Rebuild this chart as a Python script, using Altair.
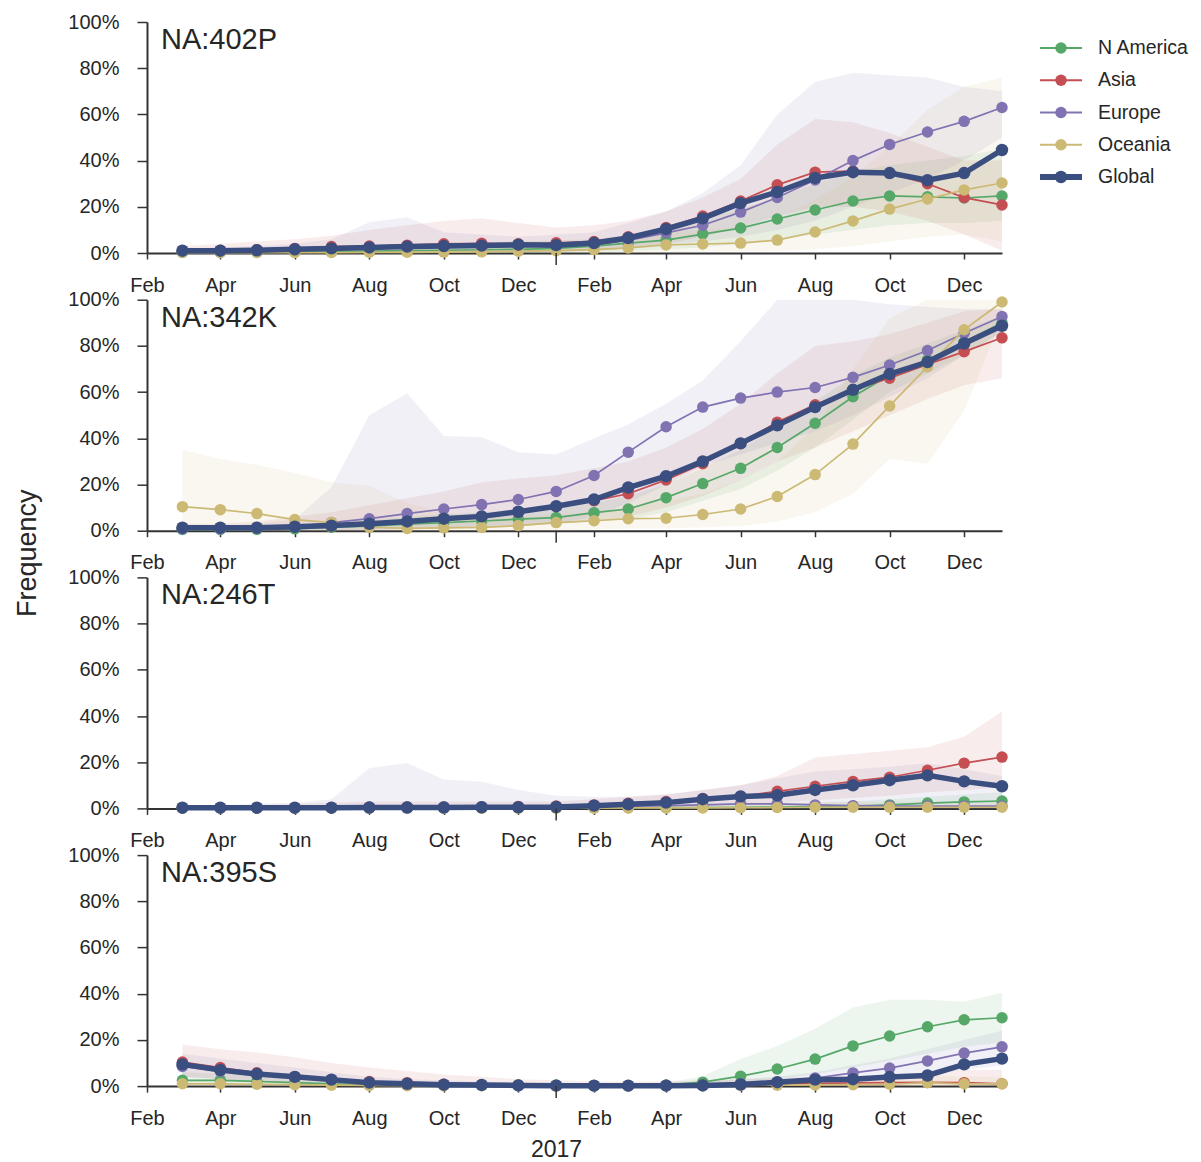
import altair as alt
import pandas as pd

MONTHS = ["2016-03-01", "2016-04-01", "2016-05-01", "2016-06-01", "2016-07-01", "2016-08-01",
          "2016-09-01", "2016-10-01", "2016-11-01", "2016-12-01", "2017-01-01", "2017-02-01",
          "2017-03-01", "2017-04-01", "2017-05-01", "2017-06-01", "2017-07-01", "2017-08-01",
          "2017-09-01", "2017-10-01", "2017-11-01", "2017-12-01", "2018-01-01"]
REGIONS = ["N America", "Asia", "Europe", "Oceania", "Global"]
COLORS = ["#55A868", "#C44E52", "#8172B2", "#CCB974", "#3A4E80"]
PANELS = ["NA:402P", "NA:342K", "NA:246T", "NA:395S"]

# ---------------- NA:402P (percent) ----------------
P402_GLO = [1.0, 1.0, 1.2, 1.6, 2.0, 2.4, 2.8, 3.0, 3.2, 3.6, 3.4, 4.3, 6.5, 10.4, 15.0, 21.6, 26.4, 32.5, 35.0, 34.6, 31.5, 34.6, 44.6]
P402_ASI = [1.0, 1.2, 1.4, 2.0, 2.8, 3.0, 3.4, 4.0, 4.2, 4.0, 4.4, 5.0, 7.0, 11.0, 16.0, 22.5, 29.5, 35.0, 35.5, 34.5, 30.0, 24.0, 20.8]
P402_ASI_LO = [0, 0, 0, 0, 0.2, 0.3, 0.4, 0.5, 0.6, 0.6, 0.7, 1.0, 2.0, 4.0, 7.0, 11.0, 16.0, 20.0, 20.0, 18.0, 14.0, 8.0, 1.0]
P402_ASI_HI = [3, 4, 5, 6, 7.5, 10, 12, 13.8, 15, 13, 11, 12, 14, 18, 24, 32, 47, 58, 56.6, 52, 46, 40, 40]
P402_EUR = [0.8, 0.8, 1.0, 1.2, 1.5, 2.0, 2.2, 2.4, 2.6, 3.0, 3.0, 3.5, 5.5, 8.7, 12.0, 17.7, 24.0, 31.6, 40.0, 47.0, 52.4, 57.0, 63.0]
P402_EUR_LO = [0, 0, 0, 0, 0, 0, 0, 0, 0.2, 0.3, 0.4, 1.0, 2.0, 4.0, 5.0, 7.0, 10.0, 14.0, 20.0, 26.0, 32.0, 40.0, 50.0]
P402_EUR_HI = [2, 2.5, 3, 4, 6, 13.3, 15.5, 9, 8, 7, 8, 9, 13, 18, 26, 38, 60, 74, 78, 77, 76, 72, 70]
P402_NAM = [0.3, 0.3, 0.4, 0.5, 0.6, 0.8, 1.0, 1.2, 1.4, 1.6, 2.0, 3.0, 4.3, 5.6, 8.2, 10.8, 14.7, 18.6, 22.5, 24.7, 24.3, 23.8, 24.7]
P402_NAM_LO = [0, 0, 0, 0, 0, 0, 0, 0, 0, 0, 0, 0.3, 0.8, 1.5, 2.5, 4, 6, 8, 10, 12, 13, 13, 14]
P402_NAM_HI = [1, 1, 1.5, 2, 2.5, 3, 3.5, 4, 4.5, 5, 5.5, 6, 8, 11, 15, 19, 24, 30, 35, 38, 40, 42, 45]
P402_OCE = [0.2, 0.2, 0.2, 0.2, 0.2, 0.3, 0.3, 0.4, 0.5, 0.8, 1.0, 1.5, 2.2, 3.5, 3.9, 4.3, 5.6, 9.1, 13.9, 19.0, 23.4, 27.3, 30.3]
P402_OCE_LO = [0, 0, 0, 0, 0, 0, 0, 0, 0, 0, 0, 0, 0, 0.3, 0.5, 0.6, 0.8, 1.5, 3, 5, 7, 8, 5]
P402_OCE_HI = [1, 1, 1, 1, 1.2, 1.5, 1.8, 2, 2.5, 3, 3.5, 4.5, 6, 9, 10, 11, 15, 23, 33, 46, 62, 72, 76]

# ---------------- NA:342K ----------------
P342_GLO = [1.3, 1.3, 1.3, 1.7, 2.2, 3.0, 4.0, 5.2, 6.2, 8.2, 10.6, 13.5, 18.7, 23.6, 30.0, 37.8, 45.6, 53.5, 61.0, 67.8, 73.0, 81.0, 88.7]
P342_ASI = [1.2, 1.2, 1.2, 1.6, 2.0, 2.8, 3.8, 5.0, 6.0, 8.0, 10.5, 13.0, 16.0, 22.0, 29.0, 37.8, 47.0, 54.5, 61.0, 66.0, 72.0, 77.5, 83.5]
P342_ASI_LO = [0, 0, 0, 0, 0, 0.3, 0.6, 1, 1.5, 2, 3, 4, 6, 10, 15, 22, 30, 36, 43, 50, 57, 63, 66]
P342_ASI_HI = [3, 3, 4, 6, 8, 11, 14, 17, 21, 22.6, 24, 27, 30, 36, 44, 55, 68, 80, 82, 85, 90, 95, 96]
P342_EUR = [0.8, 0.8, 1.2, 1.8, 3.5, 5.2, 7.4, 9.4, 11.3, 13.5, 17.0, 23.9, 34.0, 45.0, 53.5, 57.4, 60.0, 62.0, 66.4, 71.7, 78.0, 85.5, 92.7]
P342_EUR_LO = [0, 0, 0, 0, 0, 0, 0.5, 1, 1.5, 2, 3, 6, 12, 20, 28, 33, 38, 43, 50, 58, 66, 76, 86]
P342_EUR_HI = [1.5, 2, 3, 5, 18.8, 50, 59.5, 41, 40.5, 34, 33, 40, 46, 55, 65, 82, 100, 100, 100, 98, 97, 96, 96]
P342_NAM = [0.5, 0.5, 0.6, 0.8, 1.5, 2.0, 2.8, 3.5, 4.2, 5.0, 5.7, 7.8, 9.4, 14.3, 20.4, 27.0, 36.0, 46.5, 58.0, 67.4, 74.0, 81.7, 90.0]
P342_NAM_LO = [0, 0, 0, 0, 0, 0.5, 1, 1.5, 2, 2.5, 3, 4, 5, 8, 13, 18, 26, 36, 48, 60, 68, 76, 86]
P342_NAM_HI = [1.5, 1.5, 2, 2.5, 3.5, 4.5, 6, 7, 8, 9, 10, 12, 15, 20, 27, 35, 45, 56, 67, 75, 81, 87, 93]
P342_OCE = [10.4, 9.1, 7.4, 4.8, 3.5, 1.5, 1.0, 1.2, 1.4, 2.2, 3.5, 4.3, 5.2, 5.4, 7.0, 9.4, 14.8, 24.3, 37.5, 54.0, 71.0, 87.0, 99.0]
P342_OCE_LO = [0, 0, 0, 0, 0, 0, 0, 0, 0, 0, 0, 0.5, 1, 1, 1.5, 2, 4, 8, 16, 31, 29, 52, 92]
P342_OCE_HI = [35, 31, 28.5, 25, 21, 19.5, 12, 8, 6, 6, 7, 8, 10, 13, 16, 22, 30, 45, 70, 92, 100, 100, 100]

# ---------------- NA:246T ----------------
P246_GLO = [0.3, 0.3, 0.3, 0.3, 0.3, 0.4, 0.4, 0.4, 0.5, 0.5, 0.6, 1.2, 1.8, 2.5, 4.0, 5.2, 5.7, 8.0, 10.0, 12.2, 14.3, 11.7, 9.6]
P246_ASI = [0.3, 0.3, 0.3, 0.3, 0.4, 0.5, 0.6, 0.6, 0.7, 0.8, 1.0, 1.5, 2.2, 3.0, 4.3, 5.2, 7.4, 9.6, 11.7, 13.5, 16.5, 19.6, 22.2]
P246_ASI_LO = [0, 0, 0, 0, 0, 0, 0, 0, 0, 0, 0, 0.2, 0.4, 0.8, 1.2, 1.6, 2.5, 3.5, 4.5, 5.5, 7, 8, 9]
P246_ASI_HI = [1, 1.5, 1.5, 2, 2.5, 3, 3, 3, 3, 3, 3, 4, 5, 6, 8, 10, 14, 22, 23.5, 25, 26.5, 31, 42]
P246_EUR = [0.2, 0.2, 0.2, 0.2, 0.3, 0.5, 0.6, 0.5, 0.5, 0.5, 0.6, 0.8, 1.0, 1.2, 1.5, 2.0, 2.0, 1.5, 1.2, 1.0, 1.0, 1.0, 1.0]
P246_EUR_LO = [0, 0, 0, 0, 0, 0, 0, 0, 0, 0, 0, 0, 0, 0, 0, 0, 0, 0, 0, 0, 0, 0, 0]
P246_EUR_HI = [1, 1.5, 2, 2.5, 4, 17.4, 19.6, 12.5, 11.5, 8, 5.5, 5, 5, 6, 8, 10, 13, 16, 17, 18, 19.5, 17, 14]
P246_NAM = [0.2, 0.2, 0.2, 0.2, 0.2, 0.2, 0.2, 0.2, 0.2, 0.2, 0.3, 0.3, 0.3, 0.3, 0.4, 0.5, 0.6, 0.8, 1.0, 1.5, 2.3, 2.8, 3.2]
P246_NAM_LO = [0, 0, 0, 0, 0, 0, 0, 0, 0, 0, 0, 0, 0, 0, 0, 0, 0, 0, 0, 0, 0, 0, 0]
P246_NAM_HI = [0.8, 0.8, 0.8, 0.8, 0.8, 0.8, 0.8, 0.8, 0.8, 0.8, 1, 1, 1, 1, 1.2, 1.5, 2, 2.5, 3, 4, 5, 6, 7]
P246_OCE = [0.1, 0.1, 0.1, 0.1, 0.1, 0.1, 0.1, 0.1, 0.1, 0.1, 0.1, 0.1, 0.2, 0.2, 0.2, 0.3, 0.4, 0.5, 0.5, 0.5, 0.5, 0.5, 0.5]
P246_OCE_LO = [0, 0, 0, 0, 0, 0, 0, 0, 0, 0, 0, 0, 0, 0, 0, 0, 0, 0, 0, 0, 0, 0, 0]
P246_OCE_HI = [0.5, 0.5, 0.5, 0.5, 0.5, 0.5, 0.5, 0.5, 0.5, 0.5, 0.5, 0.6, 0.8, 1, 1.5, 2, 2.5, 3, 3, 3, 3, 3, 3]

# ---------------- NA:395S ----------------
P395_GLO = [9.4, 7.0, 5.2, 4.0, 2.8, 1.5, 1.0, 0.6, 0.5, 0.3, 0.2, 0.2, 0.2, 0.2, 0.3, 0.7, 1.7, 2.8, 3.0, 3.9, 4.6, 9.4, 11.9]
P395_ASI = [10.4, 8.0, 5.8, 4.0, 2.8, 2.0, 1.5, 0.8, 0.6, 0.4, 0.3, 0.2, 0.2, 0.3, 0.5, 0.8, 1.0, 1.2, 1.4, 1.5, 1.6, 1.5, 1.0]
P395_ASI_LO = [4, 3, 2, 1, 0.5, 0.2, 0, 0, 0, 0, 0, 0, 0, 0, 0, 0, 0, 0, 0, 0, 0, 0, 0]
P395_ASI_HI = [18, 16, 14.5, 12.5, 10, 8, 6.5, 5, 4, 3, 2.5, 2, 2, 2, 2.5, 3, 3.5, 4, 4.5, 5, 6, 7, 7]
P395_EUR = [8.5, 6.5, 5.0, 3.8, 2.6, 1.4, 0.9, 0.5, 0.4, 0.3, 0.2, 0.2, 0.2, 0.3, 0.5, 1.0, 1.7, 3.5, 5.7, 7.8, 10.9, 14.3, 17.0]
P395_EUR_LO = [4, 3, 2, 1, 0.5, 0, 0, 0, 0, 0, 0, 0, 0, 0, 0, 0.3, 0.8, 1.5, 2.5, 3.5, 5, 7, 9]
P395_EUR_HI = [14, 12, 10, 8, 6, 4, 3, 2.5, 2, 1.5, 1.2, 1, 1, 1.2, 2, 3, 4, 6, 9, 12, 16, 20, 24]
P395_NAM = [2.5, 2.5, 2.0, 1.5, 1.0, 0.5, 0.4, 0.3, 0.3, 0.5, 0.5, 0.3, 0.3, 0.5, 1.7, 4.3, 7.4, 11.7, 17.4, 21.7, 25.7, 28.7, 29.6]
P395_NAM_LO = [0.5, 0.5, 0.4, 0.3, 0.2, 0, 0, 0, 0, 0, 0, 0, 0, 0, 0.3, 1, 3, 5, 8, 11, 14, 17, 19]
P395_NAM_HI = [6, 5.5, 5, 4, 3, 2, 1.5, 1.2, 1.2, 1.5, 1.5, 1.2, 1.2, 1.5, 4.3, 11.7, 17.4, 24.8, 34, 37.4, 37.4, 36.5, 40.4]
P395_OCE = [1.0, 1.0, 0.8, 0.6, 0.4, 0.3, 0.2, 0.2, 0.2, 0.2, 0.2, 0.2, 0.2, 0.2, 0.2, 0.3, 0.4, 0.5, 0.6, 0.8, 1.5, 1.0, 1.0]
P395_OCE_LO = [0, 0, 0, 0, 0, 0, 0, 0, 0, 0, 0, 0, 0, 0, 0, 0, 0, 0, 0, 0, 0, 0, 0]
P395_OCE_HI = [3, 3, 2.5, 2, 1.5, 1, 1, 1, 1, 1, 1, 1, 1, 1, 1, 1.5, 2, 2.5, 3, 3.5, 4.5, 4, 4]

SERIES = {
    "NA:402P": {"N America": (P402_NAM, P402_NAM_LO, P402_NAM_HI), "Asia": (P402_ASI, P402_ASI_LO, P402_ASI_HI),
                "Europe": (P402_EUR, P402_EUR_LO, P402_EUR_HI), "Oceania": (P402_OCE, P402_OCE_LO, P402_OCE_HI),
                "Global": (P402_GLO, None, None)},
    "NA:342K": {"N America": (P342_NAM, P342_NAM_LO, P342_NAM_HI), "Asia": (P342_ASI, P342_ASI_LO, P342_ASI_HI),
                "Europe": (P342_EUR, P342_EUR_LO, P342_EUR_HI), "Oceania": (P342_OCE, P342_OCE_LO, P342_OCE_HI),
                "Global": (P342_GLO, None, None)},
    "NA:246T": {"N America": (P246_NAM, P246_NAM_LO, P246_NAM_HI), "Asia": (P246_ASI, P246_ASI_LO, P246_ASI_HI),
                "Europe": (P246_EUR, P246_EUR_LO, P246_EUR_HI), "Oceania": (P246_OCE, P246_OCE_LO, P246_OCE_HI),
                "Global": (P246_GLO, None, None)},
    "NA:395S": {"N America": (P395_NAM, P395_NAM_LO, P395_NAM_HI), "Asia": (P395_ASI, P395_ASI_LO, P395_ASI_HI),
                "Europe": (P395_EUR, P395_EUR_LO, P395_EUR_HI), "Oceania": (P395_OCE, P395_OCE_LO, P395_OCE_HI),
                "Global": (P395_GLO, None, None)},
}

FONT = "Liberation Sans"
TXT = "#262626"
AX = "#333333"
W, H = 855, 231

TICKS = [alt.DateTime(year=y, month=m, date=1) for y in (2016, 2017) for m in (2, 4, 6, 8, 10, 12)]
XSCALE = alt.Scale(domain=[alt.DateTime(year=2016, month=2, date=1), alt.DateTime(year=2018, month=1, date=1)], nice=False)
YSCALE = alt.Scale(domain=[0, 1], nice=False)
COLOR = alt.Color("region:N", scale=alt.Scale(domain=REGIONS, range=COLORS), legend=None)


def panel(name, first_y_title=False, bottom=False):
    band_rows, line_rows = [], []
    for reg in REGIONS:
        vals, lo, hi = SERIES[name][reg]
        for i, m in enumerate(MONTHS):
            line_rows.append({"region": reg, "date": m, "value": vals[i] / 100.0})
            if lo is not None:
                band_rows.append({"region": reg, "date": m, "lo": lo[i] / 100.0, "hi": hi[i] / 100.0})
    bands = pd.DataFrame(band_rows)
    lines = pd.DataFrame(line_rows)

    xaxis_kw = dict(values=TICKS, format="%b", tickSize=6, labelPadding=16, labelFlush=False,
                    labelOverlap=False, grid=False)
    if bottom:
        xaxis = alt.Axis(title="2017", titleX=409, titlePadding=10, titleFontSize=23,
                         titleFontWeight="normal", titleColor=TXT, titleFont=FONT, **xaxis_kw)
    else:
        xaxis = alt.Axis(title=None, **xaxis_kw)
    yaxis_kw = dict(values=[0, 0.2, 0.4, 0.6, 0.8, 1.0], format=".0%", tickSize=10, labelPadding=18, grid=False)
    if first_y_title:
        yaxis = alt.Axis(title="Frequency", titleY=253, titlePadding=26, titleFontSize=27,
                         titleFontWeight="normal", titleColor=TXT, titleFont=FONT, **yaxis_kw)
    else:
        yaxis = alt.Axis(title=None, **yaxis_kw)

    x = alt.X("date:T", scale=XSCALE, axis=xaxis)
    layers = []
    for reg in REGIONS[:4]:
        layers.append(
            alt.Chart(bands[bands.region == reg]).mark_area(opacity=0.11).encode(
                x=x, y=alt.Y("lo:Q", scale=YSCALE, axis=yaxis), y2="hi:Q", color=COLOR)
        )
    for reg in REGIONS:
        d = lines[lines.region == reg]
        glob = reg == "Global"
        layers.append(
            alt.Chart(d).mark_line(strokeWidth=5.5 if glob else 1.7).encode(
                x=x, y=alt.Y("value:Q", scale=YSCALE, axis=yaxis), color=COLOR)
        )
        layers.append(
            alt.Chart(d).mark_circle(size=155 if glob else 132, opacity=1).encode(
                x=x, y=alt.Y("value:Q", scale=YSCALE, axis=yaxis), color=COLOR)
        )
    # longer major tick at the year boundary
    layers.append(
        alt.Chart(pd.DataFrame({"d": ["2017-01-01"]})).mark_rule(color=AX, strokeWidth=1.5).encode(
            x=alt.X("d:T", scale=XSCALE, axis=xaxis), y=alt.value(H), y2=alt.value(H + 12))
    )
    layers.append(
        alt.Chart(pd.DataFrame({"panel": [name]})).mark_text(
            align="left", baseline="alphabetic", fontSize=29, font=FONT, color=TXT).encode(
            text="panel:N", x=alt.value(14), y=alt.value(27))
    )
    return alt.layer(*layers).properties(width=W, height=H)


panels = [panel(PANELS[0]), panel(PANELS[1], first_y_title=True), panel(PANELS[2]),
          panel(PANELS[3], bottom=True)]
main = alt.vconcat(*panels, spacing=46.7, bounds="flush")

leg_df = pd.DataFrame({"region": REGIONS})
ly = alt.Y("region:N", scale=alt.Scale(type="point", domain=REGIONS, range=[26, 155], padding=0), axis=None)
leg_base = alt.Chart(leg_df)
legend = alt.layer(
    leg_base.mark_rule().encode(
        x=alt.value(0), x2=alt.value(42), y=ly, color=COLOR,
        strokeWidth=alt.condition(alt.datum.region == "Global", alt.value(6), alt.value(2))),
    leg_base.mark_circle(opacity=1).encode(
        x=alt.value(21), y=ly, color=COLOR,
        size=alt.condition(alt.datum.region == "Global", alt.value(155), alt.value(132))),
    leg_base.mark_text(align="left", baseline="middle", fontSize=19.5, font=FONT, color=TXT).encode(
        x=alt.value(58), y=ly, text="region:N"),
).properties(width=120, height=H)

chart = alt.hconcat(main, legend, spacing=24, bounds="full").resolve_scale(
    x="independent", y="independent"
).properties(
    padding={"left": 5, "top": 4, "right": 0, "bottom": 0}
).configure_view(strokeWidth=0).configure_axis(
    domainColor=AX, domainWidth=2, tickColor=AX, tickWidth=1.5,
    labelColor=TXT, labelFontSize=20, labelFont=FONT, titleFont=FONT
).configure_text(font=FONT)

chart.save("out.html", embed_options={"renderer": "svg", "actions": False})
